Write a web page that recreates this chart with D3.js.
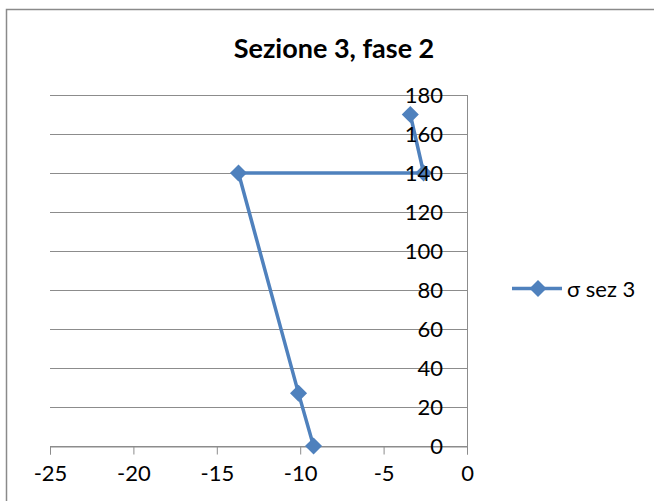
<!DOCTYPE html>
<html><head><meta charset="utf-8">
<script src="https://cdn.jsdelivr.net/npm/d3@7"></script>
<style>html,body{margin:0;padding:0;background:#fff;}svg{display:block;}</style>
</head><body>
<script>
const title = "Sezione 3, fase 2";
const seriesName = "σ sez 3";
const xValues = [-3.4, -2.6, -13.7, -10.1, -9.2];
const yValues = [170, 140, 140, 27, 0];
const xTicks = [-25, -20, -15, -10, -5, 0];
const yTicks = [0, 20, 40, 60, 80, 100, 120, 140, 160, 180];

const W = 654, H = 501;
const blue = "#4F81BD", grid = "#8C8C8C", font = "Lato, 'Open Sans', sans-serif";
const svg = d3.select("body").append("svg").attr("width", W).attr("height", H);
svg.append("rect").attr("width", W).attr("height", H).attr("fill", "#fff");
svg.append("path").attr("d", `M6.5,${H} V9.5 H${W}`).attr("fill", "none").attr("stroke", "#8a8a8a").attr("stroke-width", 1.5);

const x = d3.scaleLinear().domain([-25, 0]).range([50, 467]);
const y = d3.scaleLinear().domain([0, 180]).range([446, 95]);
const fmt = d => String(d).replace("−", "-");

svg.append("text").attr("x", 334).attr("y", 58).attr("text-anchor", "middle")
  .attr("font-family", font).attr("font-weight", "bold").attr("font-size", 27).attr("fill", "#000").text(title);

svg.append("g").selectAll("line").data(yTicks).join("line")
  .attr("x1", x(-25)).attr("x2", x(0)).attr("y1", d => Math.round(y(d)) + 0.5).attr("y2", d => Math.round(y(d)) + 0.5)
  .attr("stroke", grid).attr("stroke-width", 1);

const xAxis = svg.append("g").attr("transform", `translate(0,${Math.round(y(0)) + 0.5})`)
  .call(d3.axisBottom(x).tickValues(xTicks).tickSize(8).tickPadding(11).tickFormat(fmt));
xAxis.select(".domain").attr("stroke", grid);
xAxis.selectAll(".tick line").attr("stroke", grid);
xAxis.selectAll("text").attr("font-family", font).attr("font-size", 22).attr("fill", "#000");

svg.append("line").attr("x1", Math.round(x(0)) + 0.5).attr("x2", Math.round(x(0)) + 0.5)
  .attr("y1", y(180)).attr("y2", y(0) + 8).attr("stroke", grid);

const pts = xValues.map((v, i) => [v, yValues[i]]);
svg.append("path").datum(pts)
  .attr("d", d3.line().x(d => x(d[0])).y(d => y(d[1])))
  .attr("fill", "none").attr("stroke", blue).attr("stroke-width", 3.5).attr("stroke-linejoin", "round");
svg.append("g").selectAll("path").data(pts).join("path")
  .attr("transform", d => `translate(${x(d[0])},${y(d[1])}) rotate(45)`)
  .attr("d", d3.symbol().type(d3.symbolSquare).size(145)).attr("fill", blue);

svg.append("g").selectAll("text").data(yTicks).join("text")
  .attr("x", 443).attr("y", d => y(d)).attr("dy", "0.36em").attr("text-anchor", "end")
  .attr("font-family", font).attr("font-size", 22).attr("fill", "#000").text(d => d);

const lg = svg.append("g");
lg.append("line").attr("x1", 512).attr("x2", 562).attr("y1", 288.5).attr("y2", 288.5).attr("stroke", blue).attr("stroke-width", 3.5);
lg.append("path").attr("transform", "translate(538,288.5) rotate(45)")
  .attr("d", d3.symbol().type(d3.symbolSquare).size(145)).attr("fill", blue);
lg.append("text").attr("x", 567).attr("y", 289).attr("dy", "0.36em")
  .attr("font-family", font).attr("font-size", 22).attr("fill", "#000").text(seriesName);
</script>
</body></html>
